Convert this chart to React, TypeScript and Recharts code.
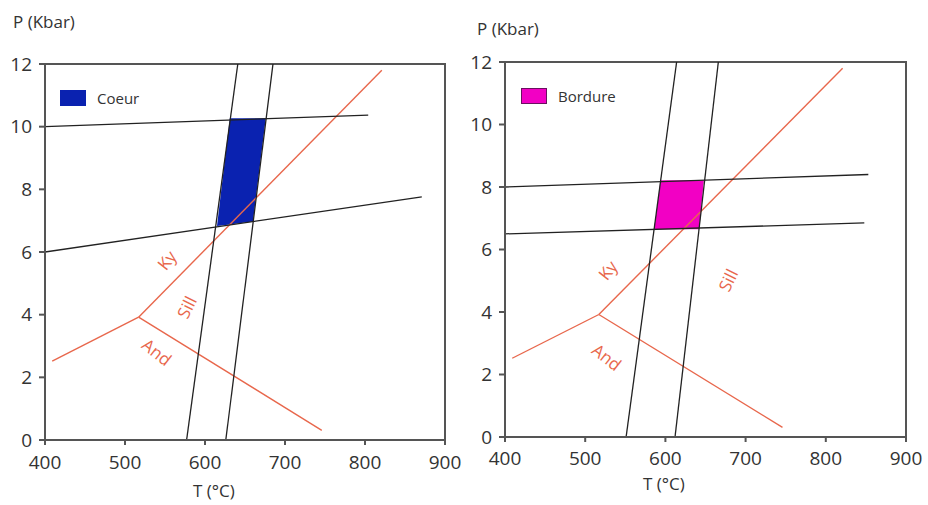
import { Area, ComposedChart, Legend, Line, ReferenceArea, Scatter, XAxis, YAxis } from "recharts";

const tempTicks = [400, 500, 600, 700, 800, 900];
const pressureTicks = [0, 2, 4, 6, 8, 10, 12];

// Al2SiO5 triple point, same on both panels
const kyAnd = [{ t: 409, p: 2.52 }, { t: 517, p: 3.92 }];
const kySill = [{ t: 517, p: 3.92 }, { t: 821, p: 11.8 }];
const andSill = [{ t: 517, p: 3.92 }, { t: 746, p: 0.31 }];

// coeur panel
const coeurThermoA = [{ t: 577, p: 0 }, { t: 641, p: 12 }];
const coeurThermoB = [{ t: 626, p: 0 }, { t: 685, p: 12 }];
const coeurBaroA = [{ t: 400, p: 10 }, { t: 804, p: 10.37 }];
const coeurBaroB = [{ t: 400, p: 6.0 }, { t: 871, p: 7.76 }];
const coeurZone = [
  { t: 615, p: [6.83, 6.83] },
  { t: 631, p: [6.88, 10.27] },
  { t: 660, p: [6.97, 10.27] },
  { t: 676, p: [10.27, 10.27] },
];
const coeurLabels = [
  { t: 552, p: 5.74, name: "Ky" },
  { t: 577, p: 4.24, name: "Sill" },
  { t: 540, p: 2.81, name: "And" },
];

// bordure panel
const bordureThermoA = [{ t: 551, p: 0 }, { t: 614, p: 12 }];
const bordureThermoB = [{ t: 612, p: 0 }, { t: 666, p: 12 }];
const bordureBaroA = [{ t: 400, p: 8.0 }, { t: 853, p: 8.4 }];
const bordureBaroB = [{ t: 400, p: 6.5 }, { t: 848, p: 6.85 }];
const bordureZone = [
  { t: 586, p: [6.65, 6.65] },
  { t: 594, p: [6.65, 8.22] },
  { t: 642, p: [6.65, 8.22] },
  { t: 648, p: [8.22, 8.22] },
];
const bordureLabels = [
  { t: 528, p: 5.34, name: "Ky" },
  { t: 678, p: 5.02, name: "Sill" },
  { t: 527, p: 2.56, name: "And" },
];

const RED = "#e8674c";
const INK = "#222";
const AXIS = "#555";
const FONT = "'Open Sans', sans-serif";
const labelAngle: Record<string, number> = { Ky: -52, Sill: -64, And: 38 };

function PhaseLabel(props: any) {
  const { cx, cy, payload } = props;
  return (
    <text
      x={cx}
      y={cy}
      transform={`rotate(${labelAngle[payload.name]} ${cx} ${cy})`}
      textAnchor="middle"
      dominantBaseline="central"
      fill={RED}
      fontSize={17}
      fontFamily={FONT}
    >
      {payload.name}
    </text>
  );
}

function Panel({
  x,
  top,
  right,
  yAxisWidth,
  xAxisHeight,
  tickMarginX,
  thermo,
  baro,
  zone,
  zoneName,
  zoneColor,
  zoneBorder,
  labels,
  legendTop,
  legendLeft,
}: any) {
  return (
    <div style={{ position: "absolute", left: x, top: 0 }}>
      <ComposedChart width={464} height={505} margin={{ top, right, bottom: 0, left: 0 }}>
        <XAxis
          type="number"
          dataKey="t"
          domain={[400, 900]}
          ticks={tempTicks}
          allowDataOverflow
          height={xAxisHeight}
          tickSize={5}
          tickMargin={tickMarginX}
          stroke={AXIS}
          strokeWidth={2}
          tick={{ fill: "#333", fontSize: 19, fontFamily: FONT }}
        />
        <YAxis
          type="number"
          dataKey="p"
          domain={[0, 12]}
          ticks={pressureTicks}
          allowDataOverflow
          width={yAxisWidth}
          tickSize={6}
          tickMargin={7}
          stroke={AXIS}
          strokeWidth={2}
          tick={{ fill: "#333", fontSize: 19, fontFamily: FONT }}
        />
        <Area
          data={zone}
          dataKey="p"
          type="linear"
          stroke="none"
          fill={zoneColor}
          fillOpacity={1}
          isAnimationActive={false}
          legendType="none"
        />
        <Line data={kyAnd} dataKey="p" type="linear" stroke={RED} strokeWidth={1.4} dot={false} isAnimationActive={false} />
        <Line data={kySill} dataKey="p" type="linear" stroke={RED} strokeWidth={1.4} dot={false} isAnimationActive={false} />
        <Line data={andSill} dataKey="p" type="linear" stroke={RED} strokeWidth={1.4} dot={false} isAnimationActive={false} />
        {thermo.concat(baro).map((d: any, i: number) => (
          <Line
            key={i}
            data={d}
            dataKey="p"
            type="linear"
            stroke={INK}
            strokeWidth={1.3}
            dot={false}
            isAnimationActive={false}
          />
        ))}
        <Scatter data={labels} dataKey="p" shape={PhaseLabel} isAnimationActive={false} />
        <ReferenceArea x1={400} x2={900} y1={0} y2={12} fill="none" stroke={AXIS} strokeWidth={2} />
        <Legend
          layout="vertical"
          align="center"
          verticalAlign="middle"
          wrapperStyle={{ top: legendTop, left: legendLeft, width: "auto", height: "auto" }}
          content={() => (
            <div style={{ display: "flex", alignItems: "center", fontFamily: FONT }}>
              <span
                style={{
                  display: "inline-block",
                  width: 26,
                  height: 16,
                  background: zoneColor,
                  boxSizing: "border-box",
                  border: zoneBorder ? `1.5px solid ${zoneBorder}` : "none",
                }}
              />
              <span style={{ marginLeft: 11, fontSize: 15, color: "#333" }}>{zoneName}</span>
            </div>
          )}
        />
      </ComposedChart>
    </div>
  );
}

const titleStyle: any = { position: "absolute", fontFamily: FONT, fontSize: 17, color: "#333", lineHeight: "20px" };

export default function App() {
  return (
    <div style={{ position: "absolute", left: 0, top: 0, width: 928, height: 505, background: "#fff" }}>
      <Panel
        x={0}
        top={64}
        right={19}
        yAxisWidth={45}
        xAxisHeight={65}
        tickMarginX={11}
        thermo={[coeurThermoA, coeurThermoB]}
        baro={[coeurBaroA, coeurBaroB]}
        zone={coeurZone}
        zoneName="Coeur"
        zoneColor="#0a22b0"
        labels={coeurLabels}
        legendTop={88}
        legendLeft={60}
      />
      <Panel
        x={464}
        top={62}
        right={22}
        yAxisWidth={41}
        xAxisHeight={68}
        tickMarginX={10}
        thermo={[bordureThermoA, bordureThermoB]}
        baro={[bordureBaroA, bordureBaroB]}
        zone={bordureZone}
        zoneName="Bordure"
        zoneColor="#f200c4"
        zoneBorder="#6a1060"
        labels={bordureLabels}
        legendTop={86}
        legendLeft={57}
      />
      <div style={{ ...titleStyle, left: 13, top: 12 }}>P (Kbar)</div>
      <div style={{ ...titleStyle, left: 477, top: 19 }}>P (Kbar)</div>
      <div style={{ ...titleStyle, left: 193, top: 481 }}>T (°C)</div>
      <div style={{ ...titleStyle, left: 643, top: 474 }}>T (°C)</div>
    </div>
  );
}
